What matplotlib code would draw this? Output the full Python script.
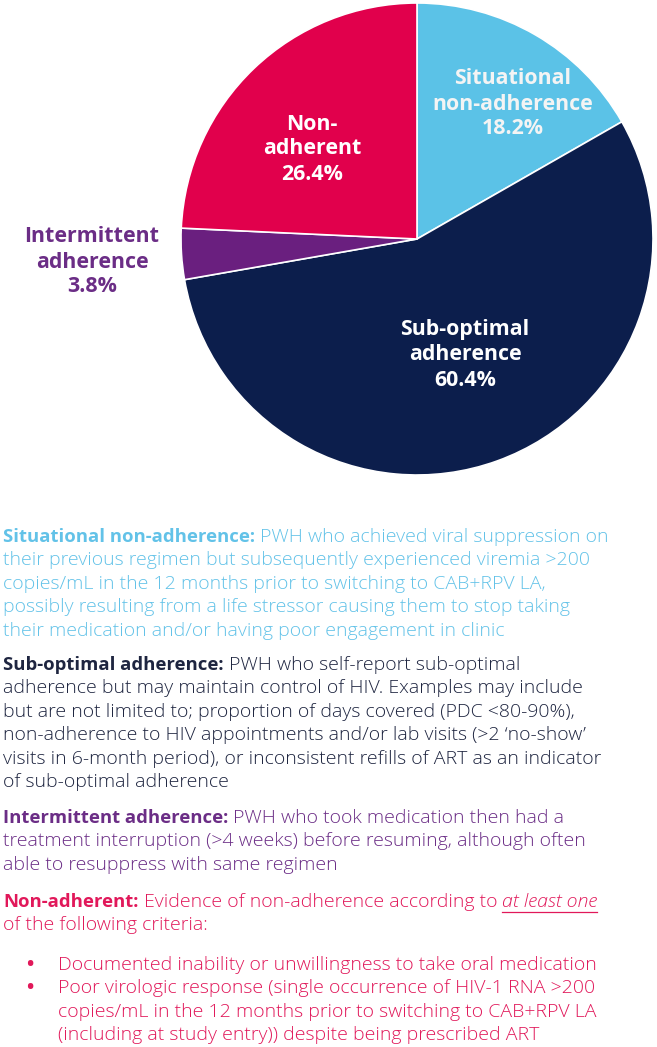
import numpy as np
import matplotlib
matplotlib.use('Agg')
import matplotlib.pyplot as plt
from matplotlib.lines import Line2D

W, H = 657, 1047

# pie data (slices drawn clockwise from 12 o'clock)
labels = ['Situational\nnon-adherence', 'Sub-optimal\nadherence', 'Intermittent\nadherence', 'Non-\nadherent']
values = [18.2, 60.4, 3.8, 26.4]
colors = ['#5bc2e7', '#0c1e4c', '#6a1f7f', '#e1004c']
text_colors = ['#62c2e8', '#1e2540', '#6b2d86', '#e1185a']

# label centres in pixels (x, y from top)
label_pos = [(513, 104), (465, 355), (92, 262), (312, 149)]
label_col = ['#f4f4f4', '#ffffff', '#6b2d86', '#ffffff']

plt.rcParams['font.family'] = ['Open Sans', 'DejaVu Sans']

fig = plt.figure(figsize=(W/100, H/100), dpi=100)
fig.patch.set_facecolor('white')

def fx(x):
    return x / W

def fy(y):
    return 1 - y / H

# pie axes: centre (417, 239), radius 236 px
cx, cy, r = 417, 239, 236
ax = fig.add_axes([fx(cx - r), fy(cy + r), 2*r/W, 2*r/H])
ax.pie(values, colors=colors, startangle=90, counterclock=False,
       wedgeprops=dict(edgecolor='white', linewidth=1.2))
ax.set_xlim(-1, 1)
ax.set_ylim(-1, 1)
ax.axis('off')

for lab, v, (x, y), c in zip(labels, values, label_pos, label_col):
    fig.text(fx(x), fy(y), lab + '\n' + '%.1f%%' % v, ha='center', va='center',
             fontsize=15.4, fontweight='bold', color=c, linespacing=1.25)

# description text
fs = 14.0
fs_head = 13.3
body_w = 'light'
renderer = fig.canvas.get_renderer()

def width_of(s, **kw):
    t = fig.text(0, 0, s, fontsize=fs, fontweight=body_w, **kw)
    w = t.get_window_extent(renderer).width
    t.remove()
    return w

def runs(x, y, parts):
    # parts: (text, weight, style, color, underline)
    for s, wt, st, c, ul in parts:
        size = fs_head if wt == 'bold' else fs
        t = fig.text(fx(x), fy(y), s, fontsize=size, fontweight=wt, fontstyle=st,
                     color=c, ha='left', va='center')
        w = t.get_window_extent(renderer).width
        if ul:
            fig.add_artist(Line2D([fx(x), fx(x + w)], [fy(y + 10), fy(y + 10)],
                                  color=c, linewidth=0.9))
        x += w + width_of('a a') - width_of('aa')
    return x

blocks = [
    ('Situational non-adherence:', text_colors[0], 537,
     ['PWH who achieved viral suppression on',
      'their previous regimen but subsequently experienced viremia >200',
      'copies/mL in the 12 months prior to switching to CAB+RPV LA,',
      'possibly resulting from a life stressor causing them to stop taking',
      'their medication and/or having poor engagement in clinic']),
    ('Sub-optimal adherence:', text_colors[1], 665,
     ['PWH who self-report sub-optimal',
      'adherence but may maintain control of HIV. Examples may include',
      'but are not limited to; proportion of days covered (PDC <80-90%),',
      'non-adherence to HIV appointments and/or lab visits (>2 \u2018no-show\u2019',
      'visits in 6-month period), or inconsistent refills of ART as an indicator',
      'of sub-optimal adherence']),
    ('Intermittent adherence:', text_colors[2], 818,
     ['PWH who took medication then had a',
      'treatment interruption (>4 weeks) before resuming, although often',
      'able to resuppress with same regimen']),
]

lh = 23.4
x0 = 3
for head, c, y, lines in blocks:
    runs(x0, y, [(head, 'bold', 'normal', c, False),
                 (lines[0], body_w, 'normal', c, False)])
    for i, ln in enumerate(lines[1:]):
        fig.text(fx(x0), fy(y + (i + 1)*lh), ln, fontsize=fs, fontweight=body_w,
                 color=c, ha='left', va='center')

c = text_colors[3]
y = 902
runs(x0, y, [('Non-adherent:', 'bold', 'normal', c, False),
             ('Evidence of non-adherence according to', body_w, 'normal', c, False),
             ('at least one', body_w, 'italic', c, True)])
fig.text(fx(x0), fy(y + lh), 'of the following criteria:', fontsize=fs,
         fontweight=body_w, color=c, ha='left', va='center')

bullets = [
    ['Documented inability or unwillingness to take oral medication'],
    ['Poor virologic response (single occurrence of HIV-1 RNA >200',
     'copies/mL in the 12 months prior to switching to CAB+RPV LA',
     '(including at study entry)) despite being prescribed ART'],
]
y = 965
for b in bullets:
    fig.text(fx(30), fy(y), '\u2022', fontsize=fs, fontweight='bold', color=c,
             ha='center', va='center')
    for ln in b:
        fig.text(fx(58), fy(y), ln, fontsize=fs, fontweight=body_w, color=c,
                 ha='left', va='center')
        y += lh

fig.savefig('out.png', dpi=100)
